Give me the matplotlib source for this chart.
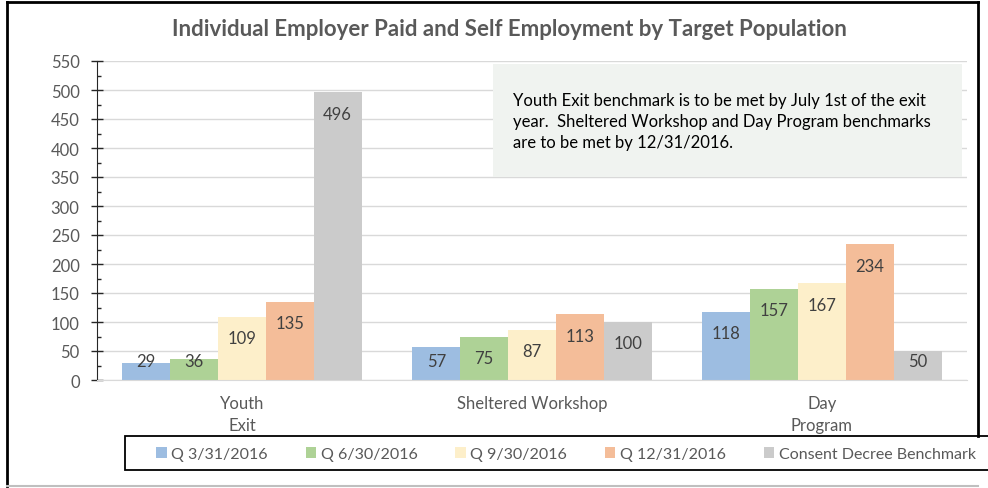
import matplotlib
matplotlib.use("Agg")
import matplotlib.pyplot as plt
import numpy as np
from matplotlib.patches import Rectangle, Patch
from matplotlib.lines import Line2D
from matplotlib.ticker import MultipleLocator

plt.rcParams['font.family'] = ['Lato', 'DejaVu Sans']

categories = ["Youth\nExit", "Sheltered Workshop", "Day\nProgram"]
series_names = ["Q 3/31/2016", "Q 6/30/2016", "Q 9/30/2016", "Q 12/31/2016",
                "Consent Decree Benchmark"]
q1 = [29, 57, 118]
q2 = [36, 75, 157]
q3 = [109, 87, 167]
q4 = [135, 113, 234]
benchmark = [496, 100, 50]
series = [q1, q2, q3, q4, benchmark]
colors = ["#9dbde1", "#aed296", "#fdefca", "#f4bd99", "#cbcbcb"]
title = "Individual Employer Paid and Self Employment by Target Population"
note = ("Youth Exit benchmark is to be met by July 1st of the exit\n"
        "year.  Sheltered Workshop and Day Program benchmarks\n"
        "are to be met by 12/31/2016.")

W, H = 988, 489
fig = plt.figure(figsize=(W / 100, H / 100), dpi=100)
fig.patch.set_facecolor("white")

def fx(px):
    return px / W

def fy(py):
    return 1 - py / H

ax = fig.add_axes([fx(97), fy(381), fx(967) - fx(97), fy(62) - fy(381)])
ax.set_ylim(0, 550)
ax.set_xlim(-0.5, 2.5)

bw = 0.165
x = np.arange(len(categories))
gray_txt = "#595959"
for i, (vals, col, name) in enumerate(zip(series, colors, series_names)):
    pos = x + (i - 2) * bw
    ax.bar(pos, vals, width=bw, color=col, label=name, zorder=2, linewidth=0)
    for px_, v in zip(pos, vals):
        ax.text(px_, max(v - 37, 33), str(v), ha="center", va="center",
                fontsize=12, color="#404040", zorder=3)

ax.yaxis.set_major_locator(MultipleLocator(50))
ax.yaxis.set_minor_locator(MultipleLocator(25))
ax.grid(axis="y", which="major", color="#d9d9d9", linewidth=1, zorder=0)
ax.set_axisbelow(True)
ax.tick_params(axis="y", which="major", direction="inout", length=9,
               width=1, colors="#262626", labelcolor=gray_txt, labelsize=12, pad=8)
ax.tick_params(axis="y", which="minor", direction="in", length=3,
               width=1, colors="#262626")
ax.set_xticks(x)
ax.set_xticklabels(categories, color=gray_txt, fontsize=12, linespacing=1.45)
ax.tick_params(axis="x", length=0, pad=11)
for s in ["top", "right"]:
    ax.spines[s].set_visible(False)
ax.spines["left"].set_color("#262626")
ax.spines["bottom"].set_color("#d9d9d9")

# title
fig.text(fx(509), fy(30), title, ha="center", va="center", fontsize=16,
         fontweight="bold", color=gray_txt)

# note box
fig.patches.append(Rectangle((fx(493), fy(178)), fx(962) - fx(493), fy(65) - fy(178),
                             transform=fig.transFigure, facecolor="#f0f3f0",
                             edgecolor="none", zorder=1))
fig.text(fx(513), fy(122), note, ha="left", va="center", fontsize=12,
         color="black", linespacing=1.4, zorder=5)

# legend frame
fig.patches.append(Rectangle((fx(125), fy(471)), fx(995) - fx(125), fy(437) - fy(471),
                             transform=fig.transFigure, facecolor="white",
                             edgecolor="black", linewidth=1.3, zorder=1))
handles = [Patch(facecolor=c, edgecolor="none") for c in colors]
leg = fig.legend(handles, series_names, loc="center",
                 bbox_to_anchor=(fx(566), fy(455)),
                 ncol=5, frameon=False,
                 fontsize=11.5, handlelength=0.65, handleheight=0.65,
                 handletextpad=0.3, columnspacing=2.35, borderaxespad=0)
for t in leg.get_texts():
    t.set_color(gray_txt)

# outer border
fig.lines.append(Line2D([fx(7), fx(7)], [fy(3), fy(487)], transform=fig.transFigure,
                        color="black", linewidth=2))
fig.lines.append(Line2D([fx(7), fx(978)], [fy(3), fy(3)], transform=fig.transFigure,
                        color="black", linewidth=2))
fig.lines.append(Line2D([fx(978), fx(978)], [fy(3), fy(437)], transform=fig.transFigure,
                        color="black", linewidth=2))
fig.lines.append(Line2D([fx(7), fx(978)], [fy(487), fy(487)], transform=fig.transFigure,
                        color="#bfbfbf", linewidth=1.5))

fig.savefig("out.png", dpi=100)
